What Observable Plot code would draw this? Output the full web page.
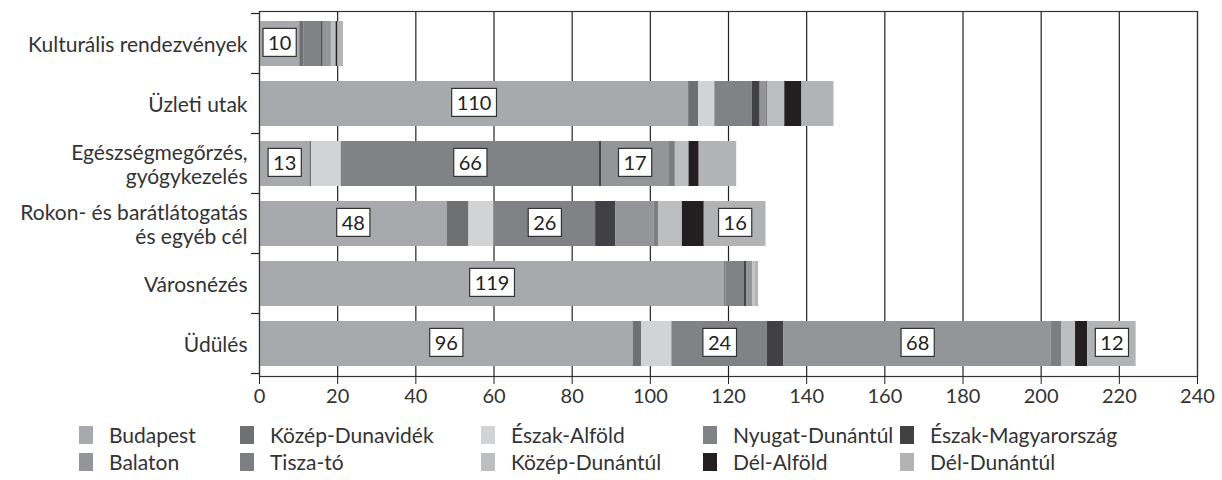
<!DOCTYPE html>
<html><head><meta charset="utf-8">
<script src="https://cdn.jsdelivr.net/npm/d3@7"></script>
<script src="https://cdn.jsdelivr.net/npm/@observablehq/plot@0.6"></script>
<style>
body{margin:0;background:#fff;font-family:Lato,"Open Sans",sans-serif;}
#wrap{position:relative;width:1222px;height:480px;overflow:hidden;}
#legend{position:absolute;left:79px;top:424px;display:grid;grid-template-columns:161px 241px 222px 197px auto;row-gap:6px;}
.item{display:flex;align-items:center;font-size:21px;color:#333;height:21px;}
.sw{width:14px;height:18px;margin-right:16px;flex:none;}
</style></head>
<body><div id="wrap"><div id="chart"></div><div id="legend"></div></div>
<script>
const categories = ["Kulturális rendezvények","Üzleti utak","Egészségmegőrzés,\ngyógykezelés","Rokon- és barátlátogatás\nés egyéb cél","Városnézés","Üdülés"];
const regions = ["Budapest","Közép-Dunavidék","Észak-Alföld","Nyugat-Dunántúl","Észak-Magyarország","Balaton","Tisza-tó","Közép-Dunántúl","Dél-Alföld","Dél-Dunántúl"];
const colors = ["#A7A9AC","#6F7072","#D2D3D5","#808285","#414042","#939598","#7D7E81","#BCBEC0","#231F20","#B2B3B5"];
// values per region, in category order
const budapest          = [10.3, 109.8, 12.9, 48.0, 119.0, 95.6];
const kozepDunavidek    = [1.0, 2.6, 0.4, 5.6, 0.3, 2.2];
const eszakAlfold       = [0, 4.1, 7.6, 6.4, 0, 7.7];
const nyugatDunantul    = [4.6, 9.6, 66.1, 26.0, 4.8, 24.4];
const eszakMagyarorszag = [0.4, 2.0, 0.5, 5.1, 0.5, 4.3];
const balaton           = [2.1, 1.6, 17.2, 9.8, 1.6, 68.4];
const tiszaTo           = [0, 0.4, 1.7, 1.2, 0, 2.6];
const kozepDunantul     = [1.2, 4.3, 3.5, 6.1, 0.6, 3.6];
const delAlfold         = [0.4, 4.4, 2.6, 5.6, 0, 3.1];
const delDunantul       = [1.5, 8.2, 9.6, 15.8, 0.9, 12.4];
const xTicks = [0,20,40,60,80,100,120,140,160,180,200,220,240];

const series = [budapest,kozepDunavidek,eszakAlfold,nyugatDunantul,eszakMagyarorszag,balaton,tiszaTo,kozepDunantul,delAlfold,delDunantul];
const data = [];
regions.forEach((r,i)=>categories.forEach((c,j)=>data.push({region:r,cat:c,value:series[i][j]})));

const chart = Plot.plot({
  width:1222, height:420,
  marginTop:11, marginBottom:44, marginLeft:259, marginRight:25,
  style:{fontFamily:"Lato, 'Open Sans', sans-serif", color:"#333", background:"#fff"},
  x:{domain:[0,240], ticks:xTicks, label:null},
  y:{domain:categories, paddingInner:0.245, paddingOuter:0.1225, label:null},
  color:{domain:regions, range:colors},
  marks:[
    Plot.gridX(xTicks,{stroke:"#222", strokeOpacity:1, strokeWidth:1.2}),
    Plot.barX(data, Plot.stackX({x:"value", y:"cat", fill:"region", z:"region", order:regions})),
    Plot.frame({stroke:"#333", strokeWidth:1.2}),
    Plot.axisX(xTicks,{tickSize:8, tickPadding:4, fontSize:20, stroke:"#222", label:null}),
    Plot.axisY({tickSize:0, tickPadding:12, fontSize:21, lineHeight:1.15, label:null}),
    Plot.text(data, Plot.stackX({x:"value", y:"cat", z:"region", order:regions,
      text:d=> d.value>=10 ? String(Math.round(d.value)) : "",
      fontSize:20, fill:"#222", className:"seglabel"}))
  ]
});
document.getElementById("chart").appendChild(chart);

// white bordered boxes behind segment labels
d3.select(chart).selectAll("g.seglabel text").each(function(){
  if(!this.textContent) return;
  const b = this.getBBox();
  d3.select(this.parentNode).insert("rect", ()=>this)
    .attr("transform", this.getAttribute("transform"))
    .attr("x", b.x-5).attr("y", b.y+b.height/2-14).attr("width", b.width+10).attr("height", 28)
    .attr("fill","#fff").attr("stroke","#333").attr("stroke-width",1.2);
});

// tick marks at band boundaries on the y axis
const ys = chart.scale("y"), xs = chart.scale("x");
const step = ys.step, bw = ys.bandwidth, x0 = xs.apply(0);
const bounds = categories.map(c=>ys.apply(c)-(step-bw)/2);
bounds.push(ys.apply(categories[categories.length-1])+bw+(step-bw)/2);
d3.select(chart).append("g").selectAll("line").data(bounds).join("line")
  .attr("x1",x0-8).attr("x2",x0).attr("y1",d=>d).attr("y2",d=>d)
  .attr("stroke","#222").attr("stroke-width",1.2);

// legend
const lg = d3.select("#legend");
regions.forEach((r,i)=>{
  const it = lg.append("div").attr("class","item");
  it.append("div").attr("class","sw").style("background",colors[i]);
  it.append("span").text(r);
});
</script></body></html>
